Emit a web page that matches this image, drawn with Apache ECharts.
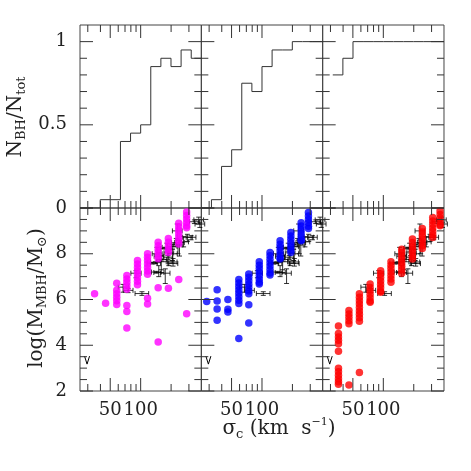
<!DOCTYPE html>
<html>
<head>
<meta charset="utf-8">
<script src="https://cdn.jsdelivr.net/npm/echarts@6/dist/echarts.min.js"></script>
<style>
  html, body { margin: 0; padding: 0; background: #fff; }
  #chart { width: 471px; height: 471px; }
</style>
</head>
<body>
<div id="chart"></div>
<script>
// axis ticks
const sigmaRange = [25.12, 398.1];
const sigmaMajor = [50, 100];
const sigmaMinor = [30, 40, 60, 70, 80, 90, 200, 300];
const fracMajor = [0, 0.5, 1];
const fracMinor = [0.1, 0.2, 0.3, 0.4, 0.6, 0.7, 0.8, 0.9];
const massMajor = [2, 4, 6, 8, 10];
const massLabels = [2, 4, 6, 8];
const massMinor = [2.5, 3, 3.5, 4.5, 5, 5.5, 6.5, 7, 7.5, 8.5, 9, 9.5];

// cumulative fraction, bins of 0.1 dex in log sigma
const binEdgesLog = [1.4, 1.5, 1.6, 1.7, 1.8, 1.9, 2.0, 2.1, 2.2, 2.3, 2.4, 2.5, 2.6];
const fracMagenta = [0, 0, 0.05, 0.05, 0.40, 0.45, 0.50, 0.85, 0.90, 0.85, 0.95, 0.90];
const fracBlue = [0, 0.05, 0.25, 0.35, 0.75, 0.70, 0.85, 0.95, 0.95, 1, 1, 1];
const fracRed = [null, 0.80, 0.90, 1, 1, 1, 1, 1, 1, 1, 1, 1];

// model black holes: sigma of each column, log M of its points
const magentaSigma = [35, 45, 58, 73, 93, 117, 149, 188, 238, 285];
const magentaLogM = [
  [6.25],
  [5.84],
  [6.71, 6.40, 6.25, 6.10, 5.95, 5.78],
  [7.05, 6.90, 6.75, 6.60, 6.45, 5.74, 5.48, 4.75],
  [7.70, 7.55, 7.40, 7.25, 7.10, 6.95, 6.80, 6.65],
  [8.00, 7.85, 7.70, 7.55, 7.40, 7.25, 7.10, 6.05, 5.80],
  [8.50, 8.35, 8.20, 8.05, 7.90, 7.78, 6.51, 4.14],
  [8.67, 8.50, 8.35, 8.20, 8.05, 6.49],
  [9.33, 9.18, 9.03, 8.88, 8.73, 8.58, 8.43, 6.87],
  [9.82, 9.67, 9.52, 9.37, 9.22, 9.14, 5.38]
];
const blueSigma = [28.4, 36, 46, 59, 74, 94, 120, 151, 193, 244, 288];
const blueLogM = [
  [5.91],
  [6.43, 5.93, 5.59, 5.09],
  [6.00, 5.57, 5.45],
  [6.87, 6.72, 6.57, 6.42, 6.27, 6.12, 5.97, 5.82, 4.29],
  [7.12, 6.97, 6.82, 6.67, 6.52, 6.37, 6.25, 5.77, 4.97],
  [7.65, 7.50, 7.35, 7.20, 7.05, 6.90, 6.75, 6.68],
  [8.06, 7.91, 7.76, 7.61, 7.46, 7.31, 7.16, 7.07],
  [8.57, 8.42, 8.27, 8.12, 7.97, 7.82, 7.77],
  [8.93, 8.78, 8.63, 8.48, 8.33, 8.18, 8.06],
  [9.36, 9.21, 9.06, 8.91, 8.76, 8.61, 8.57],
  [9.80, 9.65, 9.50, 9.35, 9.20, 9.10]
];
const redSigma = [36, 45.7, 58, 74, 94, 119, 152, 194, 243, 308, 364];
const redLogM = [
  [4.84, 4.51, 4.36, 4.22, 4.07, 3.74, 2.99, 2.84, 2.69, 2.54, 2.40, 2.30],
  [5.52, 5.37, 5.22, 5.07, 4.94, 2.26],
  [6.25, 6.10, 5.95, 5.80, 5.65, 5.50, 5.35, 5.20, 5.05, 2.81],
  [6.68, 6.53, 6.38, 6.23, 6.08, 5.93, 5.88],
  [7.26, 7.11, 6.96, 6.81, 6.66, 6.51, 6.36, 6.32],
  [7.65, 7.50, 7.35, 7.20, 7.05, 6.90, 6.75],
  [8.20, 8.05, 7.90, 7.75, 7.60, 7.45, 7.30, 7.15],
  [8.64, 8.49, 8.34, 8.19, 8.04, 7.89, 7.77],
  [9.10, 8.95, 8.80, 8.65, 8.50, 8.35, 8.23],
  [9.58, 9.43, 9.28, 9.13, 8.98, 8.83, 8.71],
  [9.87, 9.72, 9.57, 9.42, 9.27, 9.22]
];

// observed galaxies (same in every panel)
const obsSigma   = [67, 75, 90, 103, 130, 140, 143, 145, 151, 152, 160, 162, 175, 177, 182, 186, 190, 205, 205, 206, 209, 225, 230, 234, 242, 266, 290, 315, 340, 375, 385];
const obsSigmaLo = [60, 68, 80, 88, 116, 125, 128, 130, 135, 136, 143, 145, 157, 158, 163, 167, 170, 184, 184, 185, 187, 202, 206, 210, 217, 238, 260, 282, 304, 336, 345];
const obsSigmaHi = [76, 84, 101, 120, 146, 157, 160, 163, 170, 170, 179, 181, 195, 198, 203, 208, 212, 229, 229, 230, 233, 251, 257, 261, 270, 297, 324, 352, 380, 419, 430];
const obsLogM    = [6.54, 6.40, 7.15, 6.26, 7.59, 7.61, 7.20, 8.00, 7.18, 7.89, 7.65, 7.75, 7.15, 8.23, 8.28, 7.85, 8.04, 7.64, 8.32, 8.00, 7.57, 8.48, 9.00, 8.38, 8.49, 8.52, 8.72, 8.72, 9.40, 9.48, 9.30];
const obsLogMLo  = [6.32, 6.30, 6.95, 6.18, 7.55, 7.56, 7.15, 7.95, 7.00, 7.65, 7.30, 7.68, 6.70, 8.20, 8.11, 7.76, 7.48, 7.59, 8.20, 7.70, 7.46, 8.30, 8.60, 8.00, 7.90, 8.30, 8.54, 8.61, 9.32, 9.30, 9.15];
const obsLogMHi  = [6.66, 6.48, 7.26, 6.34, 7.63, 7.65, 7.23, 8.28, 7.48, 8.06, 7.93, 7.77, 7.34, 8.28, 8.46, 7.92, 8.18, 7.69, 8.41, 8.20, 7.79, 8.67, 9.30, 8.45, 8.59, 8.75, 8.85, 8.79, 9.48, 9.60, 9.38];

// upper limit
const limitSigma = [29.5];
const limitLogM = [3.35];

const panelColors = ['#ff00ff', '#0000ff', '#ff0000'];
const panelFrac = [fracMagenta, fracBlue, fracRed];
const panelSigma = [magentaSigma, blueSigma, redSigma];
const panelLogM = [magentaLogM, blueLogM, redLogM];

const font = 'DejaVu Serif';
const L = 80, T = 25, W = 121.33, H = 183;

const grids = [], xAxes = [], yAxes = [], series = [];

// one log x axis and one y axis per panel; axis index == grid index
for (let r = 0; r < 2; r++) {
  for (let c = 0; c < 3; c++) {
    const g = r * 3 + c;
    grids.push({ left: L + c * W, top: T + r * H, width: W, height: H, show: true, borderColor: '#444', borderWidth: 1 });
    const yr = r === 0 ? [0, 1.1] : [2, 10];
    xAxes.push({ type: 'log', gridIndex: g, min: sigmaRange[0], max: sigmaRange[1], show: false, axisLine: { onZero: false } });
    yAxes.push({ type: 'value', gridIndex: g, min: yr[0], max: yr[1], show: false, axisLine: { onZero: false } });
  }
}

// histograms (top row)
for (let c = 0; c < 3; c++) {
  const pts = [];
  panelFrac[c].forEach((f, i) => {
    if (f === null) return;
    pts.push([Math.pow(10, binEdgesLog[i]), f]);
    pts.push([Math.pow(10, binEdgesLog[i + 1]), f]);
  });
  series.push({
    type: 'line', xAxisIndex: c, yAxisIndex: c,
    data: pts, showSymbol: false, symbol: 'none',
    lineStyle: { color: '#333', width: 1 }, silent: true
  });
}

function renderErr(params, api) {
  const y = api.value(3);
  const p = api.coord([api.value(0), y]);
  const xl = api.coord([api.value(1), y])[0];
  const xr = api.coord([api.value(2), y])[0];
  const yb = api.coord([api.value(0), api.value(4)])[1];
  const yt = api.coord([api.value(0), api.value(5)])[1];
  const cap = 2.5;
  const st = { stroke: '#000', lineWidth: 0.8 };
  const ln = (x1, y1, x2, y2) => ({ type: 'line', shape: { x1, y1, x2, y2 }, style: st });
  return {
    type: 'group', children: [
      ln(xl, p[1], xr, p[1]),
      ln(p[0], yb, p[0], yt),
      ln(xl, p[1] - cap, xl, p[1] + cap),
      ln(xr, p[1] - cap, xr, p[1] + cap),
      ln(p[0] - cap, yb, p[0] + cap, yb),
      ln(p[0] - cap, yt, p[0] + cap, yt)
    ]
  };
}
function renderLimit(params, api) {
  const p = api.coord([api.value(0), api.value(1)]);
  return {
    type: 'polyline',
    shape: { points: [[p[0] - 2.5, p[1] - 4], [p[0], p[1] + 4], [p[0] + 2.5, p[1] - 4]] },
    style: { stroke: '#000', fill: null, lineWidth: 1 }
  };
}

const obsData = obsSigma.map((s, i) => [s, obsSigmaLo[i], obsSigmaHi[i], obsLogM[i], obsLogMLo[i], obsLogMHi[i]]);
const limitData = limitSigma.map((s, i) => [s, limitLogM[i]]);

for (let c = 0; c < 3; c++) {
  const g = 3 + c;
  const pts = [];
  panelSigma[c].forEach((s, i) => panelLogM[c][i].forEach(m => pts.push([s, m])));
  series.push({
    type: 'scatter', xAxisIndex: g, yAxisIndex: g,
    data: pts, symbol: 'circle', symbolSize: 7.5, clip: false,
    itemStyle: { color: panelColors[c] }, silent: true
  });
  series.push({
    type: 'custom', xAxisIndex: g, yAxisIndex: g,
    data: obsData, renderItem: renderErr, clip: false, silent: true,
    encode: { x: [0, 1, 2], y: [3, 4, 5] }
  });
  series.push({
    type: 'custom', xAxisIndex: g, yAxisIndex: g,
    data: limitData, renderItem: renderLimit, clip: false, silent: true,
    encode: { x: 0, y: 1 }
  });
}

const chart = echarts.init(document.getElementById('chart'));
chart.setOption({
  animation: false,
  grid: grids,
  xAxis: xAxes,
  yAxis: yAxes,
  series: series
});

// ticks on all four sides and the tick labels, placed through each panel's axes
const graphics = [];
const tickStyle = { stroke: '#333', lineWidth: 1 };
const labelStyle = { fontFamily: font, fontSize: 18, fill: '#222' };
for (let g = 0; g < 6; g++) {
  const top = g < 3;
  const yr = top ? [0, 1.1] : [2, 10];
  const finder = { xAxisIndex: g, yAxisIndex: g };
  const lo = chart.convertToPixel(finder, [sigmaRange[0], yr[0]]);
  const hi = chart.convertToPixel(finder, [sigmaRange[1], yr[1]]);
  const pushX = (vals, len) => vals.forEach(s => {
    const x = chart.convertToPixel(finder, [s, yr[0]])[0];
    graphics.push({ type: 'line', shape: { x1: x, y1: lo[1], x2: x, y2: lo[1] - len }, style: tickStyle, z: 100 });
    graphics.push({ type: 'line', shape: { x1: x, y1: hi[1], x2: x, y2: hi[1] + len }, style: tickStyle, z: 100 });
  });
  const pushY = (vals, len) => vals.forEach(v => {
    const y = chart.convertToPixel(finder, [sigmaRange[0], v])[1];
    graphics.push({ type: 'line', shape: { x1: lo[0], y1: y, x2: lo[0] + len, y2: y }, style: tickStyle, z: 100 });
    graphics.push({ type: 'line', shape: { x1: hi[0], y1: y, x2: hi[0] - len, y2: y }, style: tickStyle, z: 100 });
  });
  pushX(sigmaMajor, 13);
  pushX(sigmaMinor, 7);
  pushY(top ? fracMajor : massMajor, 13);
  pushY(top ? fracMinor : massMinor, 7);
  if (!top) {
    sigmaMajor.forEach(s => {
      const x = chart.convertToPixel(finder, [s, yr[0]])[0];
      graphics.push({ type: 'text', x: x, y: lo[1] + 10, silent: true,
        style: Object.assign({ text: String(s), align: 'center', verticalAlign: 'top' }, labelStyle) });
    });
  }
  if (g === 0 || g === 3) {
    (top ? fracMajor : massLabels).forEach(v => {
      const y = chart.convertToPixel(finder, [sigmaRange[0], v])[1];
      graphics.push({ type: 'text', x: lo[0] - 13, y: y, silent: true,
        style: Object.assign({ text: String(v), align: 'right', verticalAlign: 'middle' }, labelStyle) });
    });
  }
}

const main = { fontFamily: font, fontSize: 20, lineHeight: 24, fill: '#222' };
const sub = { fontFamily: font, fontSize: 13, lineHeight: 13, verticalAlign: 'bottom', fill: '#222' };
const sup = { fontFamily: font, fontSize: 11, lineHeight: 11, verticalAlign: 'top', fill: '#222' };
graphics.push(
  { type: 'text', x: 279, y: 429, silent: true,
    style: { text: '{m|σ}{s|c}{m| (km  s}{p|−1}{m|)}', rich: { m: main, s: sub, p: sup }, align: 'center', verticalAlign: 'middle' } },
  { type: 'text', x: 16, y: 117, rotation: Math.PI / 2, silent: true,
    style: { text: '{m|N}{s|BH}{m|/N}{s|tot}', rich: { m: main, s: sub }, align: 'center', verticalAlign: 'middle' } },
  { type: 'text', x: 37, y: 298, rotation: Math.PI / 2, silent: true,
    style: { text: '{m|log(M}{s|MBH}{m|/M}{s|⊙}{m|)}', rich: { m: main, s: sub }, align: 'center', verticalAlign: 'middle' } }
);
chart.setOption({ graphic: graphics });
</script>
</body>
</html>
